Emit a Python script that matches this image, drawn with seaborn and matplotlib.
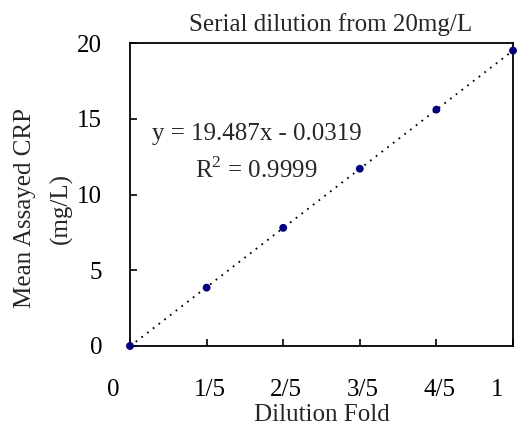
import numpy as np
import pandas as pd
import matplotlib
matplotlib.use('Agg')
import matplotlib.pyplot as plt
import matplotlib.transforms as mtransforms
import seaborn as sns

# 数据
dilution = [0.0, 0.2, 0.4, 0.6, 0.8, 1.0]
crp_mean = [0.0, 3.85, 7.8, 11.7, 15.6, 19.5]
x_tick_pos = [0.0, 0.2, 0.4, 0.6, 0.8, 1.0]
x_tick_labels = ['0', '1/5', '2/5', '3/5', '4/5', '1']
y_ticks = [0, 5, 10, 15, 20]
equation = 'y = 19.487x - 0.0319'
r2_text = r'R$^2$ = 0.9999'

df = pd.DataFrame({'Dilution Fold': dilution, 'CRP': crp_mean})

sns.set_style('ticks')
plt.rcParams['font.family'] = ['Liberation Serif', 'DejaVu Serif']
plt.rcParams['mathtext.fontset'] = 'custom'
plt.rcParams['mathtext.rm'] = 'Liberation Serif'
plt.rcParams['font.size'] = 18

fig = plt.figure(figsize=(5.17, 4.25), dpi=100)
ax = fig.add_axes([130 / 517, 79 / 425, 383 / 517, 303 / 425])

# 散点 + 线性趋势线
sns.regplot(data=df, x='Dilution Fold', y='CRP', ax=ax, ci=None,
            scatter_kws={'s': 32, 'color': '#000080', 'alpha': 1, 'zorder': 3,
                         'edgecolors': 'none', 'clip_on': False},
            line_kws={'color': 'black', 'lw': 1.3, 'linestyle': (0, (1, 3))})

ax.set_xlim(0, 1)
ax.set_ylim(0, 20)
ax.set_xticks(x_tick_pos)
ax.set_xticklabels(x_tick_labels)
ax.set_yticks(y_ticks)

for s in ax.spines.values():
    s.set_color('black')
    s.set_linewidth(1.3)

ax.tick_params(axis='both', direction='in', length=5, width=1.2,
               labelsize=18, colors='black')
ax.tick_params(axis='x', pad=24)
ax.tick_params(axis='y', pad=20)

# x 轴刻度标签的位置偏移 (0 和 1 向左)
shifts = [-17, 3, 3, 3, 3, -16]
for lab, dx in zip(ax.get_xticklabels(), shifts):
    off = mtransforms.ScaledTranslation(dx / 100, 0, fig.dpi_scale_trans)
    lab.set_transform(lab.get_transform() + off)

ax.set_xlabel('Dilution Fold', fontsize=18)
ax.xaxis.set_label_coords(0.5, -0.19)
ax.set_ylabel('Mean Assayed CRP\n(mg/L)', fontsize=18, linespacing=1.75)
ax.yaxis.set_label_coords(-0.15, 0.455)

ax.set_title('Serial dilution from 20mg/L', fontsize=18, x=0.523, pad=9)

ax.text(0.33, 0.70, equation, transform=ax.transAxes, ha='center',
        va='center', fontsize=18)
ax.text(0.33, 0.58, r2_text, transform=ax.transAxes, ha='center',
        va='center', fontsize=18)

plt.savefig('out.png', dpi=100)
